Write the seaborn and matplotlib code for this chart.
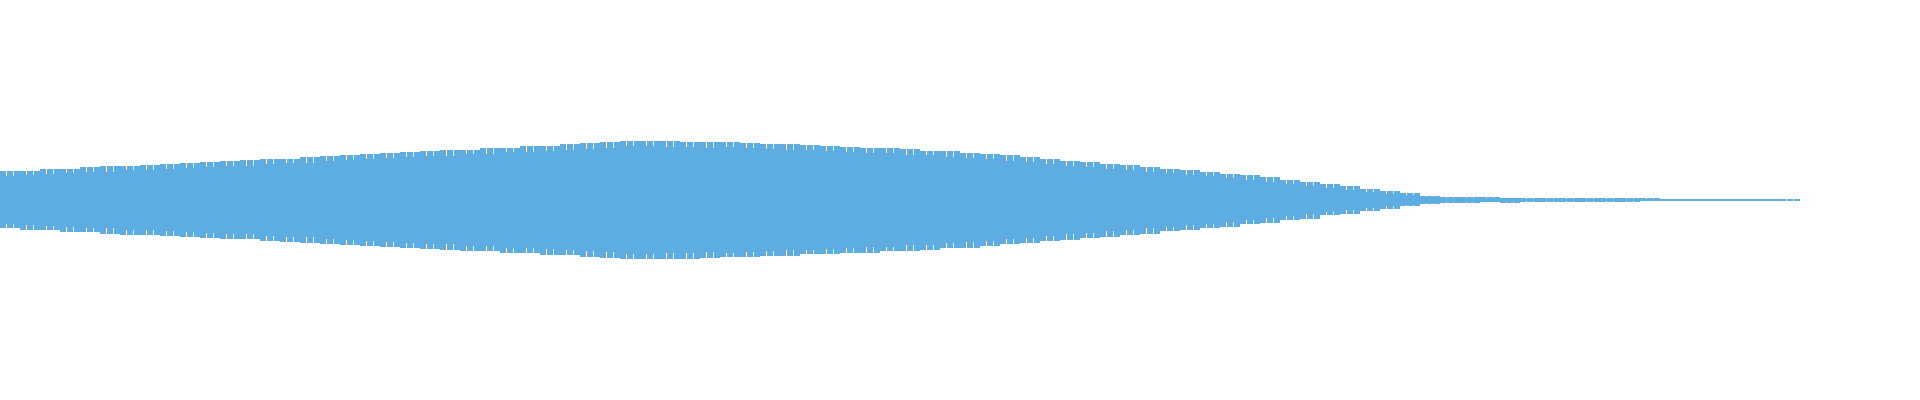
import numpy as np
import pandas as pd
import seaborn as sns
import matplotlib
matplotlib.use("Agg")
import matplotlib.pyplot as plt

# waveform envelope, one value per block
top_peak = [0.143, 0.147, 0.153, 0.157, 0.164, 0.168, 0.172, 0.176, 0.180, 0.186,
            0.188, 0.193, 0.199, 0.203, 0.207, 0.215, 0.219, 0.226, 0.230, 0.234,
            0.240, 0.244, 0.248, 0.252, 0.258, 0.262, 0.268, 0.272, 0.279, 0.283,
            0.290, 0.296, 0.295, 0.294, 0.292, 0.290, 0.289, 0.285, 0.282, 0.279,
            0.274, 0.270, 0.266, 0.262, 0.258, 0.254, 0.247, 0.243, 0.236, 0.229,
            0.223, 0.214, 0.205, 0.197, 0.191, 0.182, 0.175, 0.166, 0.157, 0.148,
            0.141, 0.132, 0.123, 0.113, 0.102, 0.091, 0.079, 0.068, 0.056, 0.044,
            0.033, 0.020, 0.015, 0.013, 0.013, 0.012, 0.010, 0.010, 0.011, 0.010,
            0.010, 0.009, 0.008, 0.006, 0.005, 0.005, 0.005, 0.005, 0.004, 0.004]

bottom_peak = [0.141, 0.149, 0.151, 0.159, 0.162, 0.170, 0.173, 0.177, 0.182, 0.184,
               0.190, 0.194, 0.197, 0.205, 0.209, 0.213, 0.221, 0.224, 0.232, 0.236,
               0.238, 0.246, 0.250, 0.254, 0.256, 0.264, 0.266, 0.274, 0.277, 0.285,
               0.292, 0.294, 0.297, 0.293, 0.293, 0.291, 0.287, 0.286, 0.281, 0.280,
               0.272, 0.271, 0.264, 0.263, 0.256, 0.255, 0.249, 0.241, 0.238, 0.231,
               0.221, 0.216, 0.203, 0.199, 0.189, 0.184, 0.173, 0.168, 0.155, 0.150,
               0.139, 0.134, 0.121, 0.115, 0.100, 0.093, 0.077, 0.070, 0.054, 0.046,
               0.031, 0.022, 0.016, 0.014, 0.012, 0.013, 0.011, 0.010, 0.010, 0.011,
               0.009, 0.010, 0.007, 0.006, 0.005, 0.004, 0.005, 0.004, 0.004, 0.003]

rms = [0.118, 0.125, 0.128, 0.134, 0.139, 0.141, 0.148, 0.150, 0.157, 0.160,
       0.163, 0.170, 0.172, 0.178, 0.183, 0.187, 0.195, 0.199, 0.203, 0.210,
       0.213, 0.219, 0.222, 0.229, 0.231, 0.238, 0.240, 0.247, 0.250, 0.257,
       0.262, 0.268, 0.270, 0.266, 0.267, 0.262, 0.264, 0.258, 0.257, 0.251,
       0.250, 0.243, 0.241, 0.235, 0.233, 0.226, 0.223, 0.215, 0.211, 0.203,
       0.197, 0.188, 0.182, 0.171, 0.167, 0.157, 0.151, 0.140, 0.135, 0.124,
       0.118, 0.108, 0.101, 0.090, 0.082, 0.070, 0.062, 0.050, 0.042, 0.031,
       0.024, 0.013, 0.010, 0.009, 0.008, 0.008, 0.007, 0.007, 0.007, 0.006,
       0.006, 0.006, 0.005, 0.004, 0.004, 0.003, 0.004, 0.003, 0.003, 0.002]

assert len(top_peak) == len(bottom_peak) == len(rms) == 90

COLOR = "#5DADE2"
SUB = 3          # sample columns per block
TOTAL_SLOTS = 288

n = len(top_peak)
peaks = pd.DataFrame({
    "slot": np.arange(n * SUB),
    "top": np.repeat(top_peak, SUB),
    "bottom": -np.repeat(bottom_peak, SUB),
})
blocks = pd.DataFrame({
    "slot": np.arange(n) * SUB + (SUB - 1) / 2,
    "top": rms,
    "bottom": -np.array(rms),
})

sns.set_theme(style="white")
fig = plt.figure(figsize=(19.2, 4), dpi=100)
ax = fig.add_axes([0, 0, 1, 1])

kw = dict(color=COLOR, saturation=1, linewidth=0, errorbar=None, native_scale=True, ax=ax)
sns.barplot(data=peaks, x="slot", y="top", width=0.9, **kw)
sns.barplot(data=peaks, x="slot", y="bottom", width=0.9, **kw)
sns.barplot(data=blocks, x="slot", y="top", width=1.0, **kw)
sns.barplot(data=blocks, x="slot", y="bottom", width=1.0, **kw)

ax.set_xlim(-0.5, TOTAL_SLOTS - 0.5)
ax.set_ylim(-1, 1)
ax.axis("off")

fig.savefig("out.png", dpi=100, facecolor="white")
